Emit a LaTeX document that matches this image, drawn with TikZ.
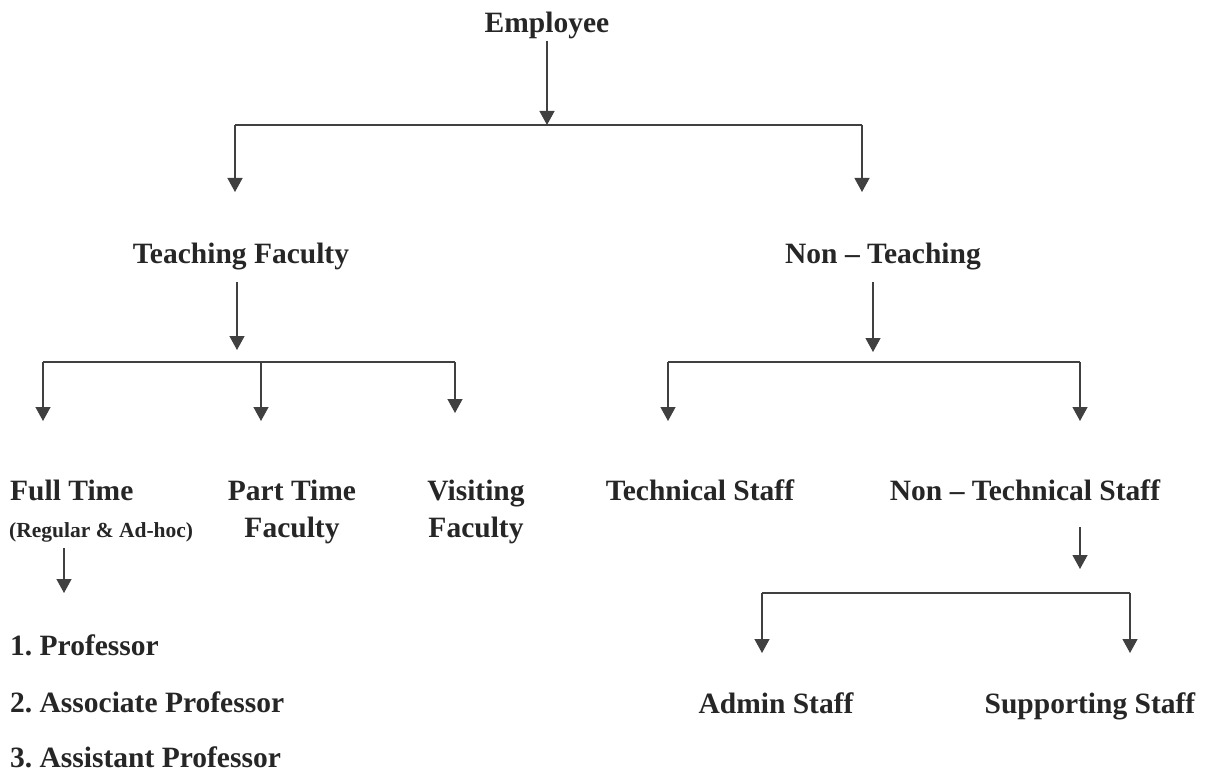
\documentclass[tikz,border=0pt]{standalone}
\usepackage{fontspec}
\setmainfont{Liberation Serif}
\usetikzlibrary{arrows.meta}
\begin{document}
\frenchspacing
\begin{tikzpicture}[x=1pt,y=-1pt,
  lbl/.style={font=\fontsize{29.5}{37}\selectfont\bfseries, text=black!85, inner sep=1pt, anchor=base},
  small/.style={font=\fontsize{21.5}{25}\selectfont\bfseries, text=black!85, inner sep=1pt, anchor=base west},
  ln/.style={draw=black!75, line width=1.3pt},
  arr/.style={ln, -{Triangle[width=15pt,length=14pt]}}]
\useasboundingbox (0,0) rectangle (1211,773);
% nodes
\node[lbl] (emp) at (547,33) {Employee};
\node[lbl] (tf) at (241,263) {Teaching Faculty};
\node[lbl] (nt) at (883,263) {Non -- Teaching};
\node[lbl, anchor=base west] (ft) at (9,500) {Full Time};
\node[small] (ftr) at (8,537) {(Regular \& Ad-hoc)};
\node[lbl, align=center] (pt) at (292,537) {Part Time\\Faculty};
\node[lbl, align=center] (vf) at (476,537) {Visiting\\Faculty};
\node[lbl] (ts) at (700,500) {Technical Staff};
\node[lbl] (nts) at (1025,500) {Non -- Technical Staff};
\node[lbl] (as) at (776,713) {Admin Staff};
\node[lbl] (ss) at (1090,713) {Supporting Staff};
\node[lbl, anchor=base west] (p1) at (9,655) {1. Professor};
\node[lbl, anchor=base west] (p2) at (9,712) {2. Associate Professor};
\node[lbl, anchor=base west] (p3) at (9,767) {3. Assistant Professor};
% bus coordinates
\coordinate (b1) at (547,125);
\coordinate (b1l) at (235,125);
\coordinate (b1r) at (862,125);
\coordinate (t1l) at (235,192);
\coordinate (t1r) at (862,192);
\coordinate (a2s) at (237,282);
\coordinate (b2) at (237,350);
\coordinate (b2l) at (43,362);
\coordinate (b2m) at (261,362);
\coordinate (b2r) at (455,362);
\coordinate (t2l) at (43,421);
\coordinate (t2m) at (261,421);
\coordinate (t2r) at (455,413);
\coordinate (a3s) at (873,282);
\coordinate (b3) at (873,352);
\coordinate (b3l) at (668,362);
\coordinate (b3r) at (1080,362);
\coordinate (t3l) at (668,421);
\coordinate (t3r) at (1080,421);
\coordinate (a4s) at (64,548);
\coordinate (t4) at (64,593);
\coordinate (a5s) at (1080,527);
\coordinate (t5) at (1080,569);
\coordinate (b6l) at (762,593);
\coordinate (b6r) at (1130,593);
\coordinate (t6l) at (762,653);
\coordinate (t6r) at (1130,653);
% connectors
\draw[arr] (emp.south) -- (b1);
\draw[ln] (b1l) -- (b1r);
\draw[arr] (b1l) -- (t1l);
\draw[arr] (b1r) -- (t1r);
\draw[arr] (a2s) -- (b2);
\draw[ln] (b2l) -- (b2r);
\draw[arr] (b2l) -- (t2l);
\draw[arr] (b2m) -- (t2m);
\draw[arr] (b2r) -- (t2r);
\draw[arr] (a3s) -- (b3);
\draw[ln] (b3l) -- (b3r);
\draw[arr] (b3l) -- (t3l);
\draw[arr] (b3r) -- (t3r);
\draw[arr] (a4s) -- (t4);
\draw[arr] (a5s) -- (t5);
\draw[ln] (b6l) -- (b6r);
\draw[arr] (b6l) -- (t6l);
\draw[arr] (b6r) -- (t6r);
\end{tikzpicture}
\end{document}
